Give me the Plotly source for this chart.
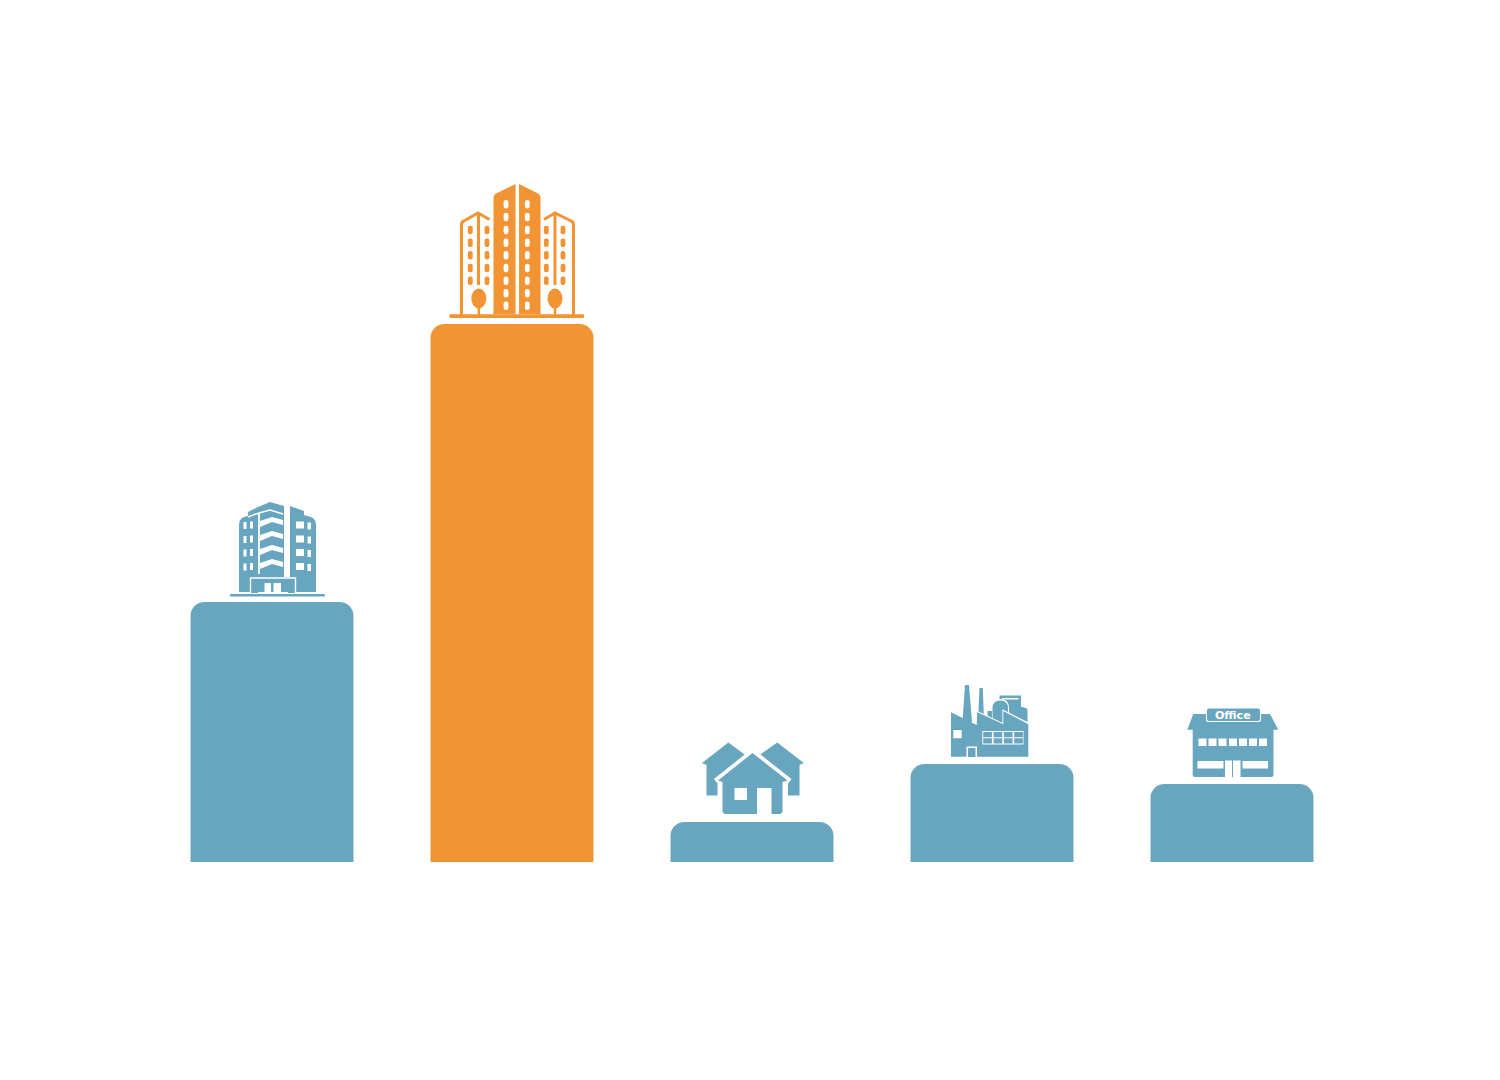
import plotly.graph_objects as go

# Values
categories = ['Apartments', 'Towers', 'Houses', 'Factories', 'Offices']
values = [260, 538, 40, 98, 78]
bar_colors = ['#68A5BF', '#F29433', '#68A5BF', '#68A5BF', '#68A5BF']

BLUE = '#68A5BF'
ORANGE = '#F29433'
WHITE = '#FFFFFF'

# the page body has an 8px margin, so the figure is cut down to fit the window
PAGE_MARGIN = 8

shapes = []


def fill(path, color):
    shapes.append(dict(type='path', path=path, fillcolor=color, line=dict(width=0),
                       xref='x2', yref='y2', layer='above'))


def stroke(path, color, width):
    shapes.append(dict(type='path', path=path, line=dict(color=color, width=width),
                       xref='x2', yref='y2', layer='above'))


def poly(points, close=True):
    path = 'M ' + ' L '.join(f'{x},{y}' for x, y in points)
    return path + ' Z' if close else path


def rect(x0, y0, x1, y1, color, r=0):
    # r rounds the corners
    path = (f'M {x0 + r},{y0} L {x1 - r},{y0} Q {x1},{y0} {x1},{y0 + r} L {x1},{y1 - r} '
            f'Q {x1},{y1} {x1 - r},{y1} L {x0 + r},{y1} Q {x0},{y1} {x0},{y1 - r} '
            f'L {x0},{y0 + r} Q {x0},{y0} {x0 + r},{y0} Z')
    fill(path, color)


def oval(cx, cy, rx, ry, color):
    shapes.append(dict(type='circle', x0=cx - rx, x1=cx + rx, y0=cy - ry, y1=cy + ry,
                       fillcolor=color, line=dict(width=0), xref='x2', yref='y2', layer='above'))


def apartment_icon():
    # left wing, centre block and right wing
    fill('M 239,525 Q 239,519 244,517 L 258,513 L 258,592 L 239,592 Z', BLUE)
    fill(poly([(248, 512), (258, 507), (270, 502), (284, 506), (284, 592), (258, 592), (258, 513), (248, 516)]), BLUE)
    stroke(poly([(285, 506), (285, 578)], False), WHITE, 1.6)
    stroke(poly([(288, 506), (288, 578)], False), WHITE, 1.6)
    fill('M 290,506 L 304,511 L 304,515 L 311,517 Q 316,519 316,525 L 316,592 L 290,592 Z', BLUE)
    # top edge of the block and the balconies
    stroke(poly([(248, 517), (259, 513), (270, 510), (283, 514)], False), WHITE, 1.4)
    stroke(poly([(259, 513), (259, 574)], False), WHITE, 1.8)
    for y in [518, 532, 546, 560]:
        fill(poly([(260, y + 3), (272, y - 1), (283, y + 2), (283, y + 7), (272, y + 4), (260, y + 9)]), WHITE)
    for y in [525.5, 539.5, 553, 567]:
        rect(243.5, y - 3.5, 246.5, y + 3.5, WHITE)
        rect(250, y - 4, 253, y + 3, WHITE)
        rect(296, y - 4, 304, y + 3, WHITE)
        rect(307.5, y - 3, 311, y + 4, WHITE)
    # lobby and ground
    fill(poly([(250, 577), (296, 577), (296, 593), (250, 593)]), BLUE)
    stroke(poly([(250.5, 593), (250.5, 578), (295.5, 578), (295.5, 593)], False), WHITE, 1.4)
    rect(264.5, 583, 271, 594, WHITE)
    rect(273.5, 583, 281, 594, WHITE)
    rect(230, 594, 325, 596.5, BLUE, 1)
    rect(258, 592, 288, 594, WHITE)


def tower_icon():
    # two halves of the centre tower
    fill(poly([(493.5, 197), (495, 194), (515.5, 184), (515.5, 314), (493.5, 314)]), ORANGE)
    fill(poly([(519, 184), (539, 194), (540.5, 197), (540.5, 314), (519, 314)]), ORANGE)
    for x in [506, 527.3]:
        for y in [204.3, 217, 230, 242.7, 255.3, 268, 280.7, 293.3, 305.7]:
            rect(x - 2.4, y - 4.2, x + 2.4, y + 4.2, WHITE, 2.2)
    # side towers are only outlines
    stroke('M 461.5,315 L 461.5,225 Q 461.5,222 464,221 L 478,213 L 489.5,219.5', ORANGE, 3)
    stroke('M 478.5,214 L 478.5,285', ORANGE, 3)
    stroke('M 573.5,315 L 573.5,225 Q 573.5,222 571,221 L 555,213 L 544,219.5', ORANGE, 3)
    stroke('M 555,214 L 555,285', ORANGE, 3)
    for x in [470.3, 487, 546.3, 563]:
        for y in [230, 242.7, 255.3, 268, 280.7]:
            rect(x - 2.4, y - 4.2, x + 2.4, y + 4.2, ORANGE, 2)
    # trees
    for x in [478.8, 555]:
        oval(x, 298.5, 7.5, 10, ORANGE)
        rect(x - 1.2, 300, x + 1.2, 315, ORANGE)
    rect(449.5, 314.3, 584, 318, ORANGE, 1)


def houses_icon():
    fill(poly([(728.3, 742.5), (746, 755.5), (725, 776), (718, 776), (718, 795.5), (706.5, 795.5),
               (706.5, 765), (702, 763)]), BLUE)
    fill(poly([(777.3, 742.5), (803.8, 763), (799.5, 765), (799.5, 795.5), (788, 795.5), (788, 776),
               (780, 776), (759, 755.5)]), BLUE)
    # white edge round the front house
    stroke(poly([(715.5, 781), (752.5, 751.5), (790, 781)], False), WHITE, 5)
    stroke(poly([(719.5, 783), (719.5, 817)], False), WHITE, 4)
    stroke(poly([(785.5, 783), (785.5, 817)], False), WHITE, 4)
    fill(poly([(752.5, 753), (787.5, 780.5), (782.5, 782), (782.5, 812), (780.5, 814), (724.5, 814),
               (722.5, 812), (722.5, 782), (718, 780.5)]), BLUE)
    rect(734.5, 788, 747, 800, WHITE)
    rect(757, 788, 771.5, 815, WHITE)


def factory_icon():
    fill(poly([(965, 685), (969, 685), (972, 722), (962.5, 722)]), BLUE)
    fill(poly([(979.5, 688), (982.8, 688), (984, 720), (978, 720)]), BLUE)
    # tanks behind the sheds
    rect(998, 694, 1022, 720, WHITE)
    rect(999.5, 695.5, 1021, 720, BLUE)
    rect(1002, 698, 1018.5, 720, WHITE)
    rect(1003.5, 699.5, 1021, 720, BLUE)
    fill('M 991.5,722 L 991.5,708 Q 991.5,699 1000,699 Q 1009,699 1009,708 L 1009,724 Z', WHITE)
    fill('M 992.5,722 L 992.5,708 Q 992.5,700.5 1000,700.5 Q 1008,700.5 1008,708 L 1008,724 Z', BLUE)
    fill('M 1012.5,724 L 1012.5,709 Q 1020,704.5 1027.5,709 L 1027.5,724 Z', BLUE)
    rect(987.5, 711, 992, 722, BLUE)
    # saw tooth sheds
    stroke(poly([(977, 712), (1003.5, 724.5), (1003.5, 711), (1029, 724)], False), WHITE, 2.2)
    fill(poly([(951, 712.3), (976.7, 725), (977.3, 712.3), (1003.3, 724.3), (1003.3, 711),
               (1028.3, 724.3), (1028.3, 756.7), (951, 756.7)]), BLUE)
    rect(953.3, 730, 961.7, 738.3, WHITE)
    rect(966.5, 746.5, 977, 757, WHITE)
    rect(968, 748, 975.5, 757, BLUE)
    # window grid
    rect(982.3, 731, 1023.5, 744.5, WHITE)
    for x in [983.2, 993.6, 1003.9, 1014.2]:
        for y in [732, 738.3]:
            rect(x, y, x + 8.7, y + 5.3, BLUE)


def office_icon():
    fill(poly([(1193.3, 714), (1270, 714), (1278.3, 729.8), (1187.3, 729.8)]), BLUE)
    rect(1192.7, 728, 1273.5, 777, BLUE, 2.5)
    rect(1206, 708, 1261, 722, WHITE, 2)
    rect(1207, 708.5, 1260, 721, BLUE, 2)
    for x in [1198.5, 1208.5, 1218.5, 1229, 1239, 1249, 1259]:
        rect(x, 738.5, x + 8, 746, WHITE)
    rect(1197.5, 761, 1223.5, 768.5, WHITE)
    rect(1242.5, 761, 1268, 768.5, WHITE)
    rect(1225, 760.5, 1232, 778, WHITE)
    rect(1233, 760.5, 1240.5, 778, WHITE)


apartment_icon()
tower_icon()
houses_icon()
factory_icon()
office_icon()

fig = go.Figure()

fig.add_trace(go.Bar(
    x=categories,
    y=values,
    width=0.679,
    marker=dict(color=bar_colors, cornerradius=14, line=dict(width=0)),
    showlegend=False
))

# empty trace so the pixel axes used by the icons exist
fig.add_trace(go.Scatter(x=[None], y=[None], xaxis='x2', yaxis='y2', showlegend=False, hoverinfo='skip'))

fig.update_layout(
    width=1500 - PAGE_MARGIN,
    height=1080 - PAGE_MARGIN,
    margin=dict(l=0, r=0, t=0, b=0),
    paper_bgcolor=WHITE,
    plot_bgcolor=WHITE,
    xaxis=dict(type='category', range=[(PAGE_MARGIN - 272) / 240, 1228 / 240], visible=False, fixedrange=True),
    yaxis=dict(range=[-218, 862 - PAGE_MARGIN], visible=False, fixedrange=True),
    xaxis2=dict(range=[PAGE_MARGIN, 1500], visible=False, overlaying='x', anchor='y2', fixedrange=True),
    yaxis2=dict(range=[1080, PAGE_MARGIN], visible=False, overlaying='y', anchor='x2', fixedrange=True),
    shapes=shapes,
    annotations=[dict(
        text='<b>Office</b>', x=1233, y=715, xref='x2', yref='y2', showarrow=False,
        font=dict(family='DejaVu Sans', size=11, color=WHITE)
    )]
)

fig.write_html('out.html')
